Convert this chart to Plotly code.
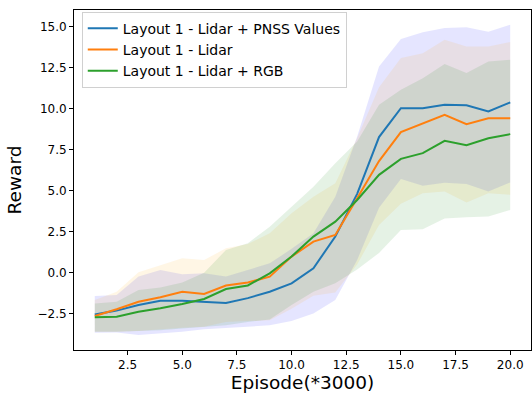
import plotly.graph_objects as go

episodes = list(range(1, 21))

names = ["Layout 1 - Lidar + PNSS Values", "Layout 1 - Lidar", "Layout 1 - Lidar + RGB"]

pnss_mean = [-2.55, -2.31, -1.97, -1.71, -1.71, -1.77, -1.85, -1.55, -1.16, -0.65,
             0.27, 2.2, 4.8, 8.26, 10.02, 10.02, 10.23, 10.2, 9.82, 10.37]
pnss_low = [-3.66, -3.65, -3.8, -3.7, -3.6, -3.45, -3.35, -3.29, -3.2, -2.95,
            -2.48, -1.66, 0.77, 3.95, 5.71, 5.3, 5.47, 5.4, 4.94, 5.5]
pnss_high = [-1.42, -1.36, -0.24, 0.16, -0.1, -0.04, -0.24, 0.16, 0.57, 1.45,
             2.4, 4.63, 8.3, 12.56, 14.23, 14.64, 14.9, 14.95, 14.67, 15.1]

lidar_mean = [-2.64, -2.23, -1.77, -1.5, -1.16, -1.3, -0.78, -0.6, -0.24, 0.98,
              1.89, 2.3, 4.54, 6.8, 8.56, 9.1, 9.62, 9.05, 9.41, 9.41]
lidar_low = [-3.6, -3.6, -3.55, -3.45, -3.35, -3.3, -3.0, -2.95, -2.9, -2.2,
             -1.4, -1.2, 0.5, 2.9, 4.2, 4.84, 4.94, 4.27, 4.84, 4.74]
lidar_high = [-1.66, -1.16, 0.02, 0.47, 0.88, 0.77, 1.49, 1.75, 2.4, 3.62,
              4.63, 5.45, 8.2, 11.3, 13.07, 13.37, 14.19, 13.78, 13.78, 14.05]

rgb_mean = [-2.72, -2.68, -2.38, -2.17, -1.91, -1.6, -1.0, -0.78, -0.04, 0.98,
            2.2, 3.11, 4.43, 5.96, 6.93, 7.28, 8.03, 7.77, 8.19, 8.44]
rgb_low = [-3.6, -3.6, -3.55, -3.5, -3.4, -3.3, -3.2, -3.0, -2.85, -1.97,
           -1.16, -0.65, 0.2, 1.2, 2.6, 2.64, 3.3, 3.38, 3.42, 3.82]
rgb_high = [-1.87, -1.77, -1.05, -0.9, -0.6, 0.0, 1.38, 1.79, 2.8, 4.02,
            5.24, 6.67, 7.99, 10.23, 11.14, 11.85, 12.71, 12.16, 12.87, 12.97]

xticks = [2.5, 5.0, 7.5, 10.0, 12.5, 15.0, 17.5, 20.0]
yticks = [-2.5, 0.0, 2.5, 5.0, 7.5, 10.0, 12.5, 15.0]

line_colors = ["#1f77b4", "#ff7f0e", "#2ca02c"]
fill_colors = ["rgba(0,0,255,0.1)", "rgba(255,165,0,0.1)", "rgba(0,128,0,0.1)"]

series = [(pnss_mean, pnss_low, pnss_high), (lidar_mean, lidar_low, lidar_high),
          (rgb_mean, rgb_low, rgb_high)]

fig = go.Figure()
for i, (m, lo, hi) in enumerate(series):
    fig.add_trace(go.Scatter(x=episodes, y=lo, mode="lines", line=dict(width=0),
                             showlegend=False, hoverinfo="skip"))
    fig.add_trace(go.Scatter(x=episodes, y=hi, mode="lines", line=dict(width=0),
                             fill="tonexty", fillcolor=fill_colors[i],
                             showlegend=False, hoverinfo="skip"))
for i, (m, lo, hi) in enumerate(series):
    fig.add_trace(go.Scatter(x=episodes, y=m, mode="lines", name=names[i],
                             line=dict(color=line_colors[i], width=2)))

fmt = lambda v: f"{v:.1f}".replace("-", "\u2212")

fig.update_layout(
    width=532, height=396,
    margin=dict(l=74, r=1, t=10, b=46),
    paper_bgcolor="white", plot_bgcolor="white",
    font=dict(family="DejaVu Sans", color="black", size=12),
    legend=dict(x=0.017, y=0.995, xanchor="left", yanchor="top",
                bgcolor="rgba(255,255,255,0.8)", bordercolor="#d0d0d0", borderwidth=1,
                font=dict(size=14), itemwidth=30, tracegroupgap=0,
                traceorder="normal"),
    xaxis=dict(range=[0.05, 20.95], tickvals=xticks, ticktext=[fmt(v) for v in xticks],
               showgrid=False, zeroline=False, showline=True, mirror=True,
               linecolor="black", linewidth=1, ticks="outside", ticklen=4,
               tickcolor="black", tickfont=dict(size=12),
               title=dict(text="Episode(*3000)", font=dict(size=18.5), standoff=4)),
    yaxis=dict(range=[-4.71, 16.0], tickvals=yticks, ticktext=[fmt(v) for v in yticks],
               showgrid=False, zeroline=False, showline=True, mirror=True,
               linecolor="black", linewidth=1, ticks="outside", ticklen=4,
               tickcolor="black", tickfont=dict(size=12),
               title=dict(text="Reward", font=dict(size=18.5), standoff=10)),
)

fig.write_html("out.html")
